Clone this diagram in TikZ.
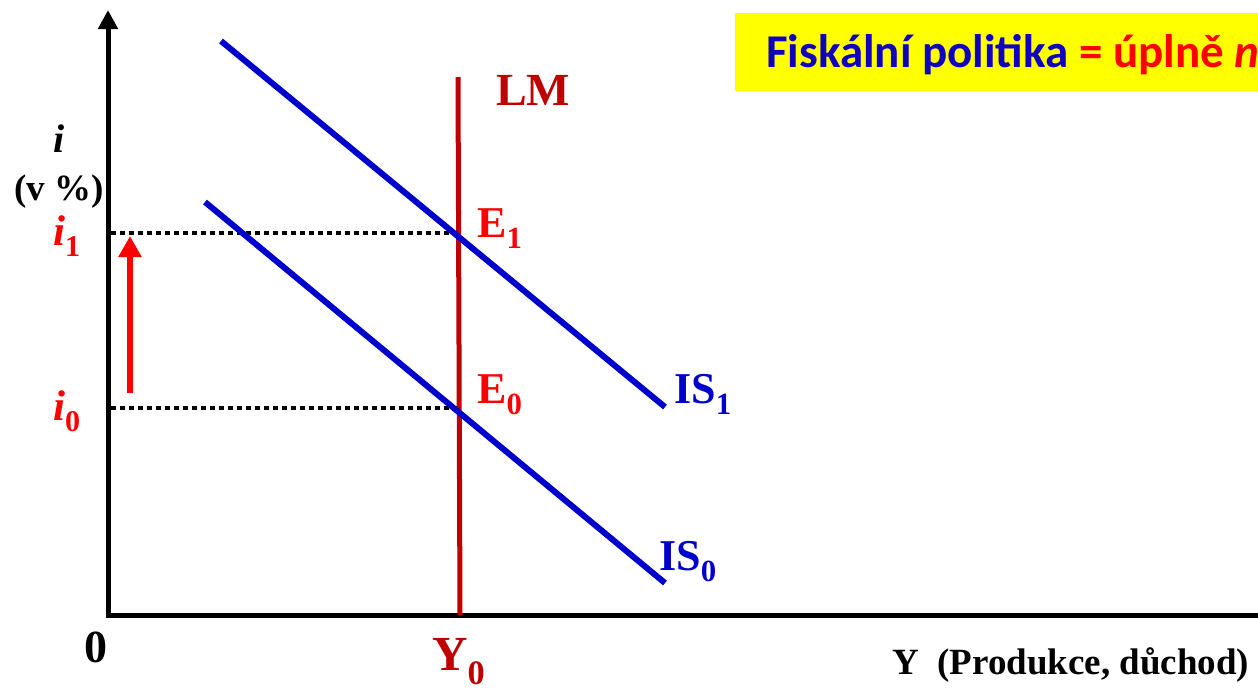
\documentclass[tikz,border=0pt]{standalone}
\usepackage{fontspec}
\setmainfont{Liberation Serif}
\newfontfamily\carlito{Carlito}
\usetikzlibrary{arrows.meta}
\definecolor{isblue}{RGB}{0,0,204}
\definecolor{titleblue}{RGB}{16,0,192}
\definecolor{lmred}{RGB}{192,0,0}
\definecolor{ttyellow}{RGB}{255,255,0}
\begin{document}
\begin{tikzpicture}[x=1pt,y=-1pt,
  lbl/.style={inner sep=0pt, anchor=base west, font=\bfseries\fontsize{44}{44}\selectfont},
  axisline/.style={line width=5pt, black},
  isline/.style={line width=6pt, isblue},
  lmline/.style={line width=5pt, lmred},
  guide/.style={line width=4.5pt, black, dash pattern=on 5pt off 4pt},
  shiftarrow/.style={line width=6pt, red, -{Triangle[length=21pt,width=22pt]}}]
\useasboundingbox (0,0) rectangle (1258,689);
\clip (0,0) rectangle (1258,689);
% title box
\fill[ttyellow] (735,13) rectangle (1280,91);
\node[anchor=base west, inner sep=0pt, font=\carlito\bfseries\fontsize{47}{47}\selectfont] (title) at (766,67)
  {\textcolor{titleblue}{Fiskální politika} \textcolor{red}{= úplně \textit{n}}};
% axes
\coordinate (O) at (108,615);
\coordinate (ytop) at (108,10);
\coordinate (xend) at (1275,615);
\draw[axisline, line join=miter, -{Triangle[length=19pt,width=19pt]}] (xend) -- (O) -- (ytop);
% guide lines
\coordinate (i1) at (111,233);
\coordinate (E1) at (458,233);
\coordinate (i0) at (111,408);
\coordinate (E0) at (458,408);
\draw[guide] (i1) -- (E1);
\draw[guide] (i0) -- (E0);
% LM
\coordinate (lmtop) at (458,77);
\coordinate (lmbot) at (460,615);
\draw[lmline] (lmtop) -- (lmbot);
% IS curves
\coordinate (is1a) at (221,41);
\coordinate (is1b) at (665,407);
\coordinate (is0a) at (205,202);
\coordinate (is0b) at (665,583);
\draw[isline] (is1a) -- (is1b);
\draw[isline] (is0a) -- (is0b);
% red shift arrow
\coordinate (arra) at (130,393);
\coordinate (arrb) at (130,236);
\draw[shiftarrow] (arra) -- (arrb);
% labels
\node[lbl, font=\bfseries\itshape\fontsize{40}{40}\selectfont] (ilbl) at (53,152) {i};
\node[lbl, font=\bfseries\fontsize{37}{37}\selectfont] (vlbl) at (14,200) {(v \%)};
\node[lbl, red, font=\bfseries\fontsize{43}{43}\selectfont] (i1lbl) at (53,245) {\textit{i}\textsubscript{1}};
\node[lbl, red, font=\bfseries\fontsize{43}{43}\selectfont] (i0lbl) at (53,420) {\textit{i}\textsubscript{0}};
\node[lbl, font=\bfseries\fontsize{46}{46}\selectfont] (zero) at (84,662) {0};
\node[lbl, lmred, text depth=0pt, font=\bfseries\fontsize{49}{49}\selectfont] (y0lbl) at (432,670) {Y\textsubscript{0}};
\node[lbl, lmred, font=\bfseries\fontsize{46}{46}\selectfont] (lmlbl) at (496,105) {LM};
\node[lbl, red] (e1lbl) at (477,237) {E\textsubscript{1}};
\node[lbl, red] (e0lbl) at (477,403) {E\textsubscript{0}};
\node[lbl, isblue] (is1lbl) at (674,403) {IS\textsubscript{1}};
\node[lbl, isblue] (is0lbl) at (659,570) {IS\textsubscript{0}};
\node[lbl, font=\bfseries\fontsize{37}{37}\selectfont] (ylbl) at (892,674) {Y\hspace{0.5em}(Produkce, důchod)};
\end{tikzpicture}
\end{document}
